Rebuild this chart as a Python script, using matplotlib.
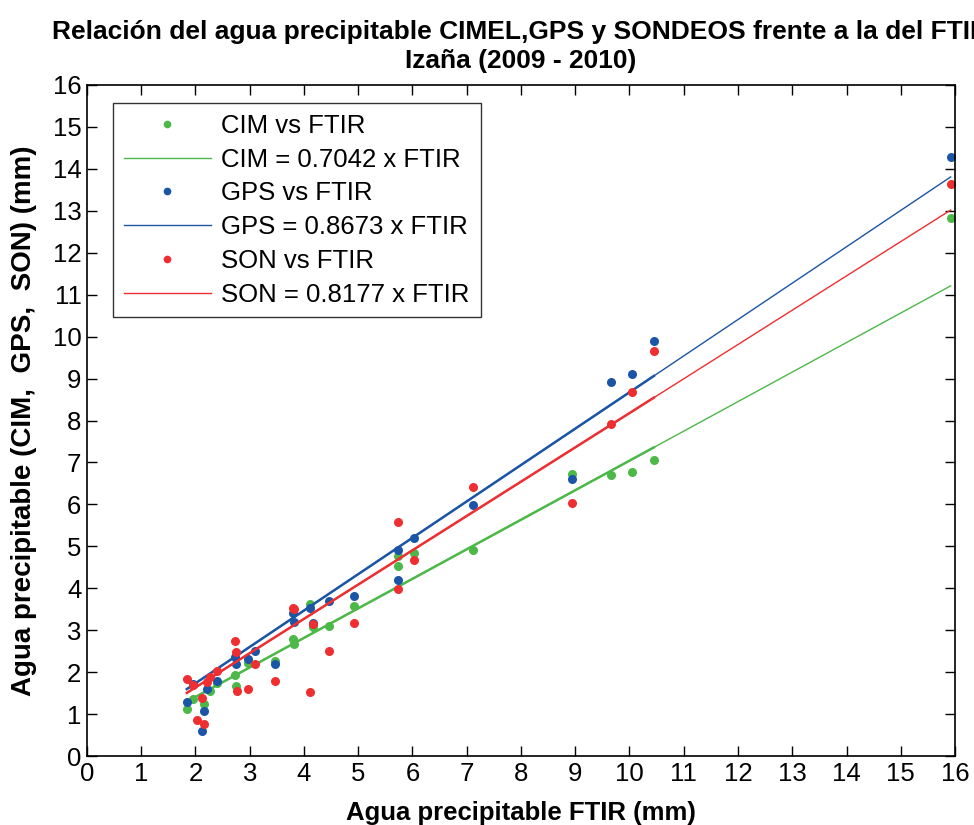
import numpy as np
import matplotlib
matplotlib.use('Agg')
import matplotlib.pyplot as plt

plt.rcParams['font.family'] = ['Liberation Sans', 'DejaVu Sans']

nan = np.nan
# agua precipitable FTIR (mm) y las otras tres medidas para la misma fecha
ftir = [1.84, 1.96, 2.02, 2.12, 2.16, 2.21, 2.26, 2.39, 2.73, 2.75, 2.76,
        2.97, 3.10, 3.46, 3.80, 3.82, 4.12, 4.16, 4.46, 4.93, 5.74, 5.74,
        6.02, 7.12, 8.94, 9.65, 10.05, 10.45, 15.92]
cim = [1.12, 1.36, nan, nan, 1.24, nan, 1.56, 1.73, 1.94, 1.68, nan,
       2.21, nan, 2.27, 2.78, 2.67, 3.62, 3.08, 3.10, 3.58, 4.77, 4.52,
       4.84, 4.92, 6.73, 6.69, 6.77, 7.05, 12.82]
gps = [1.28, 1.72, nan, 0.60, 1.08, 1.59, nan, 1.80, 2.37, 2.20, nan,
       2.32, 2.51, 2.20, 3.42, 3.19, 3.53, 3.17, 3.70, 3.82, 4.92, 4.20,
       5.19, 5.99, 6.61, 8.91, 9.11, 9.89, 14.29]
son = [1.84, 1.69, 0.85, 1.39, 0.76, 1.76, 1.89, 2.03, 2.74, 2.47, 1.56,
       1.59, 2.19, 1.80, 3.54, 3.50, 1.52, 3.14, 2.51, 3.18, 5.59, 3.98,
       4.68, 6.42, 6.03, 7.92, 8.67, 9.65, 13.64]

k_cim = 0.7042
k_gps = 0.8673
k_son = 0.8177

c_cim = '#4cb848'
c_gps = '#1b55a6'
c_son = '#ee2e30'

fig = plt.figure(figsize=(9.74, 8.25), dpi=100)
ax = fig.add_axes([0.0893, 0.0836, 0.8912, 0.8134])

x_all = np.array([min(ftir), max(ftir)])
x_part = np.array([min(ftir), 10.45])

ax.plot(ftir, cim, 'o', color=c_cim, ms=6.5, mec='none', label='CIM vs FTIR')
ax.plot(x_all, k_cim * x_all, '-', color=c_cim, lw=1.0, label='CIM = 0.7042 x FTIR')
ax.plot(x_part, k_cim * x_part, '-', color=c_cim, lw=1.8)
ax.plot(ftir, gps, 'o', color=c_gps, ms=6.5, mec='none', label='GPS vs FTIR')
ax.plot(x_all, k_gps * x_all, '-', color=c_gps, lw=1.0, label='GPS = 0.8673 x FTIR')
ax.plot(x_part, k_gps * x_part, '-', color=c_gps, lw=1.8)
ax.plot(ftir, son, 'o', color=c_son, ms=6.5, mec='none', label='SON vs FTIR')
ax.plot(x_all, k_son * x_all, '-', color=c_son, lw=1.0, label='SON = 0.8177 x FTIR')
ax.plot(x_part, k_son * x_part, '-', color=c_son, lw=1.8)

ax.set_xlim(0, 16)
ax.set_ylim(0, 16)
ax.set_xticks(range(0, 17))
ax.set_yticks(range(0, 17))
ax.tick_params(direction='in', top=True, right=True, length=7, width=1,
               labelsize=18.5, pad=4)
for s in ax.spines.values():
    s.set_linewidth(1.2)

ax.set_xlabel('Agua precipitable FTIR (mm)', fontsize=18.5, fontweight='bold', labelpad=11)
ax.set_ylabel('Agua precipitable (CIM,  GPS,  SON) (mm)', fontsize=20,
              fontweight='bold', labelpad=11)
ax.set_title('Relación del agua precipitable CIMEL,GPS y SONDEOS frente a la del FTIR\nIzaña (2009 - 2010)',
             fontsize=19, fontweight='bold', pad=12, linespacing=1.3)

leg = ax.legend(loc='upper left', bbox_to_anchor=(0.03, 0.973), borderaxespad=0,
                fontsize=18.5, frameon=True, fancybox=False, edgecolor='black',
                markerscale=0.85, handlelength=3.4, handletextpad=0.4,
                labelspacing=0.38, borderpad=0.42)
leg.get_frame().set_linewidth(1.0)

fig.savefig('out.png', dpi=100)
